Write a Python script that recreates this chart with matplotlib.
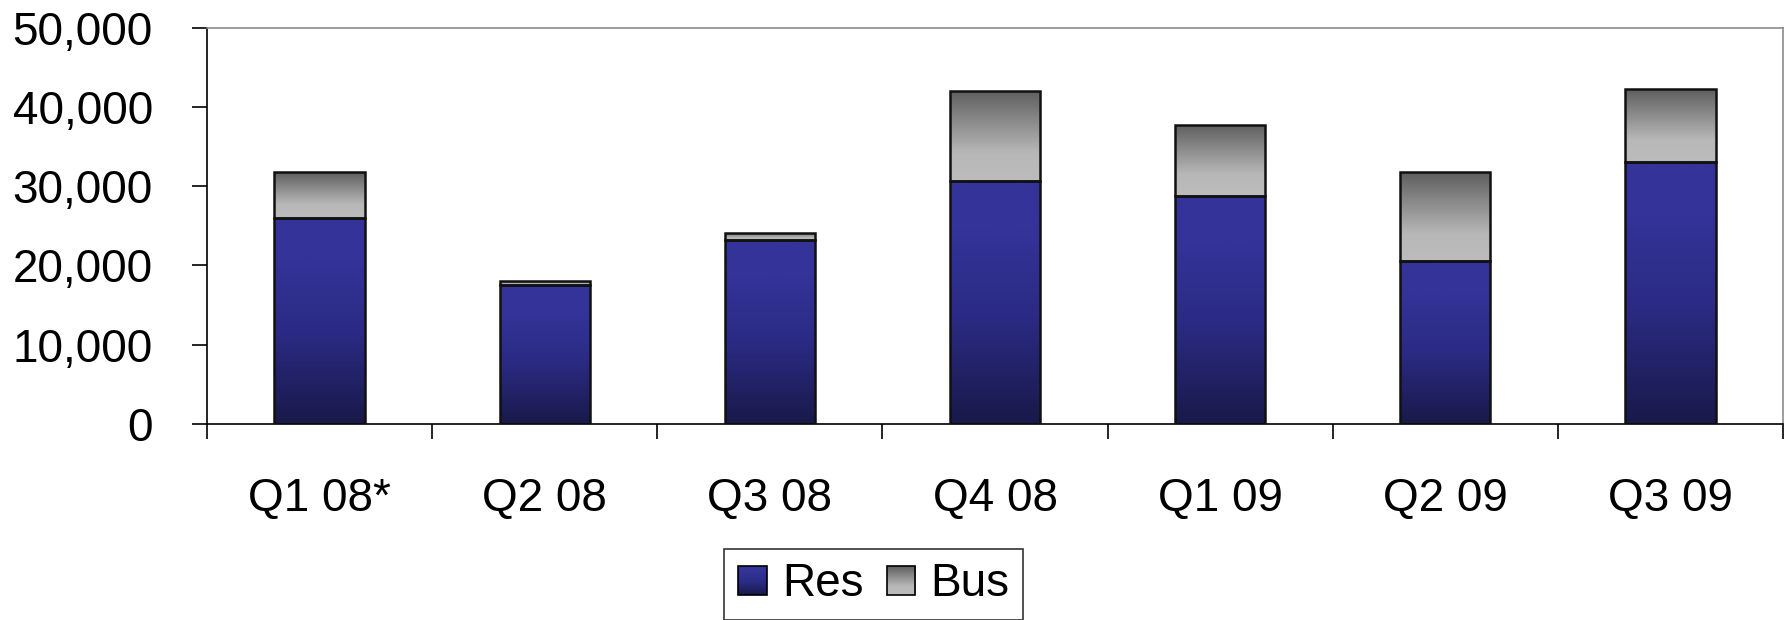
import numpy as np
import matplotlib
matplotlib.use("Agg")
import matplotlib.pyplot as plt
from matplotlib.patches import Rectangle
from matplotlib.colors import LinearSegmentedColormap
from matplotlib.image import BboxImage
from matplotlib.transforms import Bbox, TransformedBbox
from matplotlib.legend_handler import HandlerBase
from matplotlib.ticker import FuncFormatter

plt.rcParams['font.family'] = ['Liberation Sans', 'DejaVu Sans']

quarters = ["Q1 08*", "Q2 08", "Q3 08", "Q4 08", "Q1 09", "Q2 09", "Q3 09"]
res = [26000, 17500, 23200, 30700, 28800, 20600, 33100]
bus = [5800, 500, 900, 11400, 9000, 11200, 9200]

# gradients, bottom -> top
res_cmap = LinearSegmentedColormap.from_list(
    "res", [(0.0, "#19194a"), (0.45, "#2b2b85"), (0.8, "#333399"), (1.0, "#333399")])
bus_cmap = LinearSegmentedColormap.from_list(
    "bus", [(0.0, "#bcbcbc"), (0.3, "#b8b8b8"), (0.7, "#858585"), (1.0, "#5e5e5e")])

grad = np.linspace(0, 1, 256).reshape(-1, 1)
FS = 33

fig = plt.figure(figsize=(17.87, 6.2), dpi=100)
ax = fig.add_axes([0.1158, 0.3166, 0.882, 0.638])

x = np.arange(len(quarters))
width = 0.4


def gradient_bars(xs, heights, bottoms, cmap):
    bars = ax.bar(xs, heights, width, bottom=bottoms, facecolor="none",
                  edgecolor="#111111", linewidth=1.8, zorder=3)
    for b in bars:
        x0, y0 = b.get_x(), b.get_y()
        im = ax.imshow(grad, cmap=cmap, aspect="auto", origin="lower",
                       extent=[x0, x0 + b.get_width(), y0, y0 + b.get_height()],
                       zorder=2)
        im.set_clip_path(b)
    return bars


gradient_bars(x, res, 0, res_cmap)
gradient_bars(x, bus, res, bus_cmap)

ax.set_xlim(-0.5, len(quarters) - 0.5)
ax.set_ylim(0, 50000)
ax.set_yticks(np.arange(0, 50001, 10000))
ax.yaxis.set_major_formatter(FuncFormatter(lambda v, p: f"{int(v):,}"))
ax.tick_params(axis="y", labelsize=FS, length=11, width=1.2, pad=28, direction="out")

ax.set_xticks(x)
ax.set_xticklabels(quarters)
ax.tick_params(axis="x", which="major", length=0, labelsize=FS, pad=38)
ax.set_xticks(np.arange(-0.5, len(quarters), 1.0), minor=True)
ax.tick_params(axis="x", which="minor", length=11, width=1.2, direction="out")

for s in ["left", "bottom"]:
    ax.spines[s].set_color("black")
    ax.spines[s].set_linewidth(1.2)
for s in ["top", "right"]:
    ax.spines[s].set_color("#8c8c8c")
    ax.spines[s].set_linewidth(1.2)


class GradientHandler(HandlerBase):
    def __init__(self, cmap):
        super().__init__()
        self.cmap = cmap

    def create_artists(self, legend, orig_handle, xdescent, ydescent,
                       width, height, fontsize, trans):
        side = width
        x0 = -xdescent
        y0 = -ydescent + (height - side) / 2
        bb = TransformedBbox(Bbox.from_bounds(x0, y0, side, side), trans)
        img = BboxImage(bb, cmap=self.cmap, origin="lower", interpolation="bilinear")
        img.set_data(grad)
        rect = Rectangle((x0, y0), side, side, facecolor="none",
                         edgecolor="black", linewidth=1.2, transform=trans)
        return [img, rect]


h_res = Rectangle((0, 0), 1, 1)
h_bus = Rectangle((0, 0), 1, 1)
leg = fig.legend([h_res, h_bus], ["Res", "Bus"], ncol=2, fontsize=FS,
                 loc="upper center", bbox_to_anchor=(0.489, 0.115),
                 handler_map={h_res: GradientHandler(res_cmap), h_bus: GradientHandler(bus_cmap)},
                 frameon=True, fancybox=False, edgecolor="black",
                 handlelength=0.63, handleheight=0.7, handletextpad=0.33,
                 columnspacing=0.5, borderpad=0.3, borderaxespad=0)
leg.get_frame().set_linewidth(1.2)

fig.savefig("out.png", dpi=100)
